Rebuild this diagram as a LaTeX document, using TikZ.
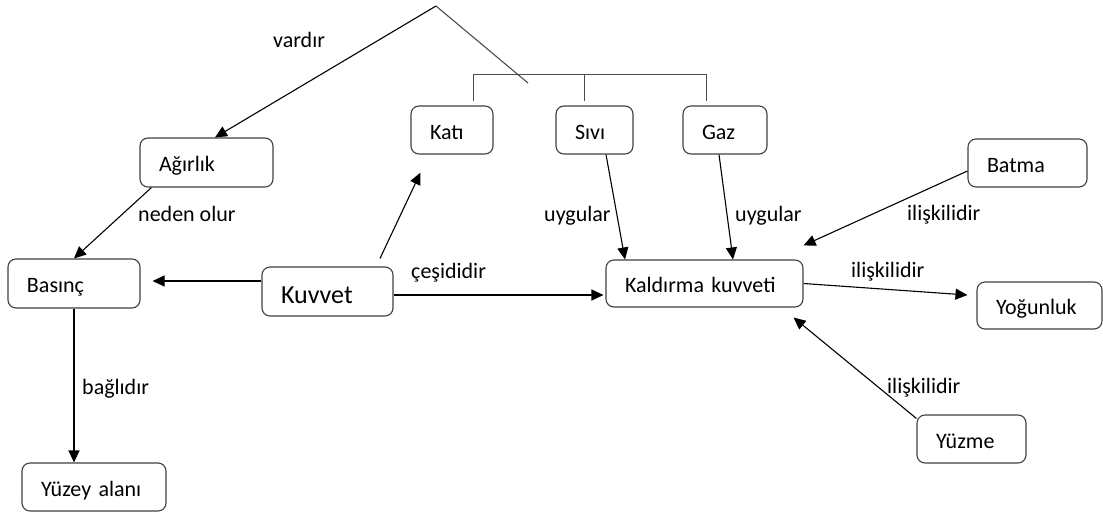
\documentclass[tikz,border=0pt]{standalone}
\usepackage{fontspec}
\setmainfont{Carlito}
\usetikzlibrary{positioning,arrows.meta,calc}

\tikzset{
  kutu/.style={draw=black!75, line width=1.1pt, rounded corners=8pt, align=left,
    inner xsep=19pt, inner ysep=0pt, text height=18pt, text depth=0pt,
    font=\fontsize{22}{26}\selectfont},
  etiket/.style={anchor=base west, inner sep=0pt, font=\fontsize{22}{26}\selectfont},
  ok/.style={-{Triangle[length=12pt,width=11pt]}, line width=1.1pt}
}

\begin{document}
\begin{tikzpicture}[x=1pt,y=-1pt]
    \useasboundingbox (0,0) rectangle (1103,512);

    % Kutular
    \foreach \ad/\x/\y/\w/\h/\metin in {agirlik/206.5/162.5/133/49/Ağırlık, basinc/74/283.5/132/49/Basınç,
      kati/452/130/82/48/Katı, sivi/594.5/130/77/48/Sıvı, gaz/725/130/84/48/Gaz,
      batma/1027.5/163/119/48/Batma, kaldirma/704.5/283.5/197/47/Kaldırma kuvveti,
      yogunluk/1039.5/305.5/125/47/Yoğunluk, yuzme/971.5/439/109/48/Yüzme, yuzey/94/487/144/48/Yüzey alanı} {
      \pgfmathsetmacro\gen{\w-38}
      \node[kutu, text width=\gen pt, minimum height=\h pt] (\ad) at (\x,\y) {\metin};
    }
    \node[kutu, text width=93pt, minimum height=49pt, text height=23pt, font=\fontsize{26}{30}\selectfont] (kuvvet) at (327.5,291.5) {Kuvvet};

    % Ust cizgiler
    \coordinate (tepe) at (436,6);
    \coordinate (uc) at (528,83);
    \draw[line width=1.1pt, black!70] (tepe) -- (uc);
    \draw[ok] (tepe) -- ($(agirlik.north)+(8.5,0)$);
    \draw[line width=1pt, black!70] ($(kati.north)+(21,-4)$) -- ++(0,-27) -| ($(gaz.north)+(-19,-4)$);
    \draw[line width=1pt, black!70] ($(sivi.north)+(-10.5,-4)$) -- ++(0,-27);

    % Oklar
    \draw[ok] ($(agirlik.south west)+(12,0)$) -- (basinc.north);
    \draw[ok] ($(kuvvet.west)+(0,-10.5)$) -- ($(basinc.east)+(12,-2.5)$);
    \draw[ok] ($(kuvvet.north)+(52.5,-8)$) -- ($(kati.south)+(-31.5,18)$);
    \draw[ok] ($(kuvvet.east)+(0,3.5)$) -- ($(kaldirma.west)+(-2,11.5)$);
    \draw[ok] ($(sivi.south)+(11.5,0)$) -- ($(kaldirma.north)+(-79.5,0)$);
    \draw[ok] ($(gaz.south)+(-6,0)$) -- ($(kaldirma.north)+(28.5,0)$);
    \draw[ok] ($(batma.west)+(0,8)$) -- ($(kaldirma.north east)+(0,-14)$);
    \draw[ok] (kaldirma.east) -- ($(yogunluk.west)+(-9,-10.5)$);
    \draw[ok] ($(yuzme.north west)+(0,4)$) -- ($(kaldirma.south east)+(-10,10)$);
    \draw[ok] (basinc.south) -- (basinc.south |- yuzey.north);

    % Etiketler
    \foreach \ad/\x/\y/\metin in {e1/273/47/vardır, e2/138/221/neden olur, e3/411/278/çeşididir,
      e4/544/221/uygular, e5/735/221/uygular, e6/907/220/ilişkilidir,
      e7/851/277/ilişkilidir, e8/887/393/ilişkilidir, e9/82/394/bağlıdır} {
      \node[etiket] (\ad) at (\x,\y) {\metin};
    }

\end{tikzpicture}
\end{document}
